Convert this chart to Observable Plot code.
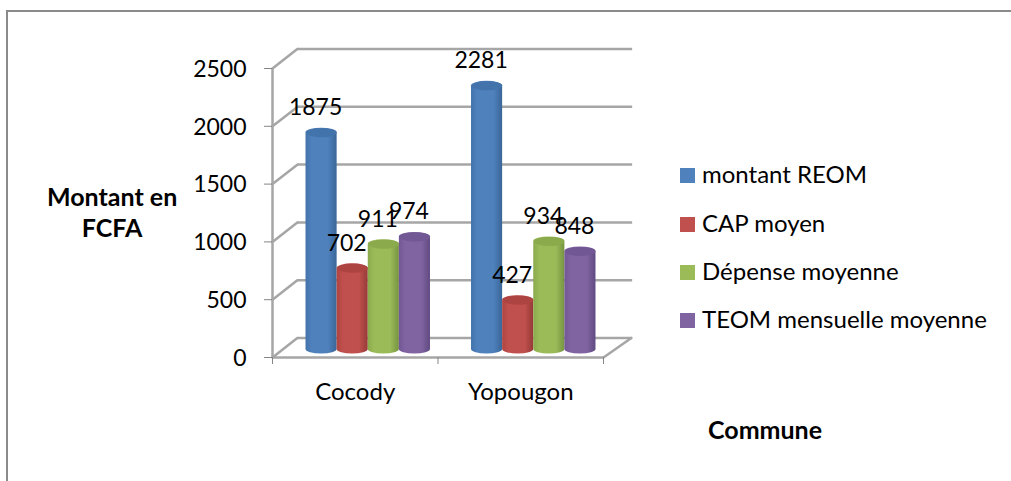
<!DOCTYPE html>
<html lang="fr">
<head>
<meta charset="utf-8">
<script src="https://cdn.jsdelivr.net/npm/d3@7"></script>
<script src="https://cdn.jsdelivr.net/npm/@observablehq/plot@0.6"></script>
<style>
html,body{margin:0;padding:0;background:#fff;}
#wrap{position:relative;width:1011px;height:481px;overflow:hidden;font-family:Lato,"Open Sans",sans-serif;color:#000;}
#wrap svg{display:block;position:absolute;left:0;top:0;}
#border{position:absolute;left:6px;top:10px;width:1100px;height:600px;border:2px solid #8a8a8a;box-sizing:border-box;}
.lg{position:absolute;left:680px;font-size:24px;line-height:24px;white-space:nowrap;}
.lg i{position:absolute;left:0;top:3px;width:15px;height:15px;}
.lg span{position:absolute;left:22px;top:-3px;}
.t{position:absolute;font-weight:700;font-size:25px;line-height:31px;text-align:center;white-space:nowrap;}
</style>
</head>
<body>
<div id="wrap">
<div id="border"></div>
</div>
<script>
const communes = ["Cocody", "Yopougon"];
const seriesNames = ["montant REOM", "CAP moyen", "Dépense moyenne", "TEOM mensuelle moyenne"];
const cocodyValues = [1875, 702, 911, 974];
const yopougonValues = [2281, 427, 934, 848];
const yTicks = [0, 500, 1000, 1500, 2000, 2500];
const baseColors = ["#4f81bd", "#c0504d", "#9bbb59", "#8064a2"];
const capColors = ["#4373ab", "#ae4441", "#8aaa4c", "#715794"];
const darkColors = ["#3a6698", "#963a38", "#769440", "#604a80"];

const rows = [];
[cocodyValues, yopougonValues].forEach((vals, g) => vals.forEach((v, s) => rows.push({commune: communes[g], g, s, v})));

const barW = 0.188;
const left = d => d.g + 0.5 + (d.s - 2) * barW;
const mid = d => left(d) + barW / 2;
const depthDx = 13, depthDy = -8;

const line = {draw(c, l) { c.moveTo(0, 0); c.lineTo(0, -l); }};
const cap = {draw(c, size) {
  const rx = Math.sqrt(size / Math.PI), ry = rx * 0.3, k = 0.5523;
  c.moveTo(-rx, 0);
  c.bezierCurveTo(-rx, -ry * k, -rx * k, -ry, 0, -ry);
  c.bezierCurveTo(rx * k, -ry, rx, -ry * k, rx, 0);
  c.bezierCurveTo(rx, ry * k, rx * k, ry, 0, ry);
  c.bezierCurveTo(-rx * k, ry, -rx, ry * k, -rx, 0);
  c.closePath();
}};

const gradients = () => {
  const ns = "http://www.w3.org/2000/svg";
  const defs = document.createElementNS(ns, "defs");
  baseColors.forEach((col, i) => {
    const g = document.createElementNS(ns, "linearGradient");
    g.setAttribute("id", "cyl" + i);
    [[0, capColors[i]], [0.2, col], [0.72, col], [1, darkColors[i]]].forEach(([o, c]) => {
      const st = document.createElementNS(ns, "stop");
      st.setAttribute("offset", o);
      st.setAttribute("stop-color", c);
      g.appendChild(st);
    });
    defs.appendChild(g);
  });
  return defs;
};

const grey = "#a6a6a6";
const chart = Plot.plot({
  width: 1011, height: 481,
  marginLeft: 272, marginRight: 408, marginTop: 68, marginBottom: 124,
  style: {fontFamily: "Lato, 'Open Sans', sans-serif", fontSize: "23px", color: "#000", background: "transparent", overflow: "visible"},
  x: {domain: [0, 2], axis: null},
  y: {domain: [0, 2500], axis: null},
  color: {type: "identity"},
  marks: [
    gradients,
    Plot.ruleY(yTicks, {x1: 0, x2: 2.025, dx: 25, dy: -19.5, stroke: grey, strokeWidth: 2.5}),
    Plot.vector(yTicks, {x: 0, y: d => d, length: 31.5, rotate: 52, anchor: "start", shape: line, stroke: grey, strokeWidth: 2.5}),
    Plot.vector([2], {x: d => d, y: 0, length: 34, rotate: 55, anchor: "start", shape: line, stroke: grey, strokeWidth: 2.5}),
    Plot.ruleX([0], {y1: 0, y2: 2500, stroke: grey, strokeWidth: 2.5}),
    Plot.ruleY([0], {x1: 0, x2: 2, stroke: grey, strokeWidth: 2.5}),
    Plot.axisY({ticks: yTicks, tickSize: 8, tickPadding: 18, stroke: "#868686", label: null, tickFormat: null, text: null}),
    Plot.text(yTicks, {x: 0, y: d => d, dx: -26, dy: 1, textAnchor: "end", text: d => String(d), fill: "#000", fontSize: 23}),
    Plot.axisX({ticks: [0, 1, 2], tickSize: 7, tickFormat: () => "", stroke: "#868686", label: null}),
    Plot.axisX({ticks: [0.5, 1.5], tickSize: 0, tickPadding: 25, tickFormat: d => communes[d - 0.5], fill: "#000", fontSize: 24, label: null}),
    Plot.rect(rows, {x1: left, x2: d => left(d) + barW, y1: 0, y2: d => d.v, dx: depthDx, dy: depthDy,
      insetTop: -4.5, insetBottom: -4.5, rx: 15.5, ry: 4.5, fill: d => `url(#cyl${d.s})`}),
    Plot.dot(rows, {x: mid, y: d => d.v, dx: depthDx, dy: depthDy, r: 15, symbol: cap, fill: d => capColors[d.s], stroke: "none"}),
    Plot.text(rows, {x: mid, y: d => d.v, dx: depthDx - 6, dy: depthDy - 25, text: d => String(d.v), fill: "#000", fontSize: 23})
  ]
});
const wrap = document.getElementById("wrap");
wrap.appendChild(chart);

const legendY = [165, 214, 262, 310];
seriesNames.forEach((name, i) => {
  const el = document.createElement("div");
  el.className = "lg";
  el.style.top = legendY[i] + "px";
  el.innerHTML = `<i style="background:${baseColors[i]}"></i><span>${name}</span>`;
  wrap.appendChild(el);
});
const title = (html, x, y) => {
  const el = document.createElement("div");
  el.className = "t";
  el.style.left = x + "px";
  el.style.top = y + "px";
  el.innerHTML = html;
  wrap.appendChild(el);
};
title("Montant en<br>FCFA", 47, 181);
title("Commune", 708, 414);
</script>
</body>
</html>
